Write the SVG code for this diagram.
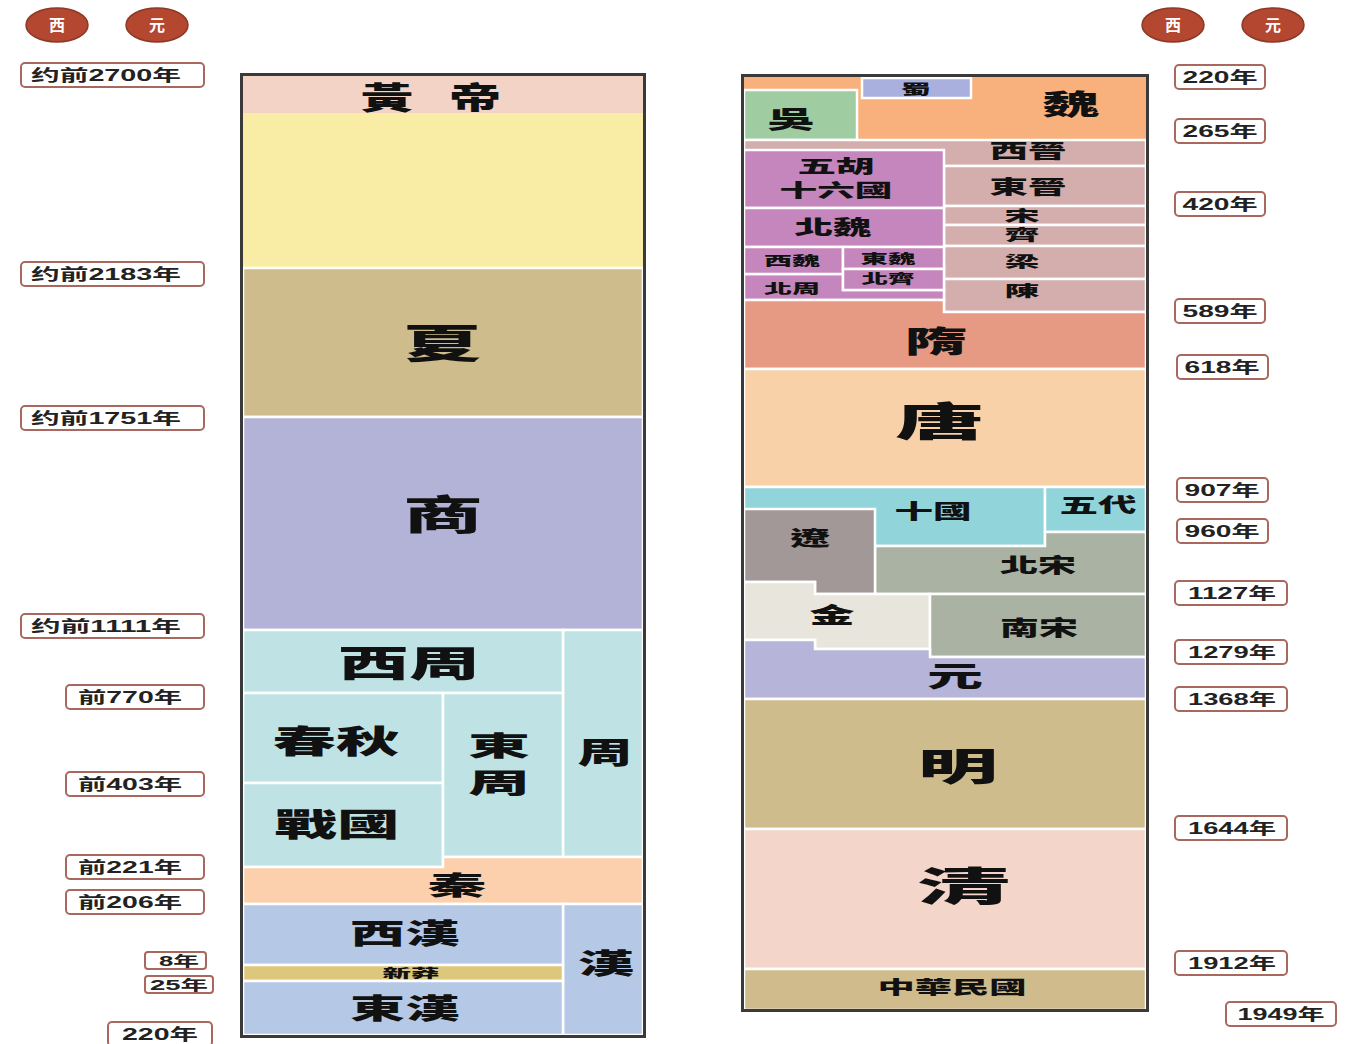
<svg xmlns="http://www.w3.org/2000/svg" width="1346" height="1044" viewBox="0 0 1346 1044">
<style>
.c{stroke:#fff;stroke-width:2.5}
.frame{fill:none;stroke:#3a3a3a;stroke-width:3}
.t{font-family:"Noto Sans CJK TC","Noto Sans CJK SC",sans-serif;font-weight:900;fill:#111;text-anchor:middle}
.lb rect{fill:#fff;stroke:#a9685e;stroke-width:2}
.lb text{font-family:"Liberation Sans","Noto Sans CJK SC",sans-serif;font-weight:bold;font-size:16px;fill:#222;text-anchor:middle}
.bd ellipse{fill:#b4472f;stroke:#8e3826;stroke-width:1.5}
.bd text{font-family:"Noto Sans CJK TC",sans-serif;font-weight:bold;font-size:16px;fill:#fff;text-anchor:middle}
</style>
<rect width="1346" height="1044" fill="#fff"/>

<g id="badges" class="bd">
<ellipse cx="57" cy="25" rx="31" ry="17"/><text x="57" y="31">西</text>
<ellipse cx="157" cy="25" rx="31" ry="17"/><text x="157" y="31">元</text>
<ellipse cx="1173" cy="25" rx="31" ry="17"/><text x="1173" y="31">西</text>
<ellipse cx="1273" cy="25" rx="31" ry="17"/><text x="1273" y="31">元</text>
</g>

<g id="left-labels" class="lb">
<rect x="21" y="63" width="183" height="24" rx="4"/><text x="106" y="81" textLength="150" lengthAdjust="spacingAndGlyphs">约前2700年</text>
<rect x="21" y="262" width="183" height="24" rx="4"/><text x="106" y="280" textLength="150" lengthAdjust="spacingAndGlyphs">约前2183年</text>
<rect x="21" y="406" width="183" height="24" rx="4"/><text x="106" y="424" textLength="150" lengthAdjust="spacingAndGlyphs">约前1751年</text>
<rect x="21" y="614" width="183" height="24" rx="4"/><text x="106" y="632" textLength="150" lengthAdjust="spacingAndGlyphs">约前1111年</text>
<rect x="66" y="685" width="138" height="24" rx="4"/><text x="130" y="703" textLength="104" lengthAdjust="spacingAndGlyphs">前770年</text>
<rect x="66" y="772" width="138" height="24" rx="4"/><text x="130" y="790" textLength="104" lengthAdjust="spacingAndGlyphs">前403年</text>
<rect x="66" y="855" width="138" height="24" rx="4"/><text x="130" y="873" textLength="104" lengthAdjust="spacingAndGlyphs">前221年</text>
<rect x="66" y="890" width="138" height="24" rx="4"/><text x="130" y="908" textLength="104" lengthAdjust="spacingAndGlyphs">前206年</text>
<rect x="145" y="952" width="61" height="17" rx="3"/><text x="179" y="966" textLength="40" lengthAdjust="spacingAndGlyphs" style="font-size:14px">8年</text>
<rect x="145" y="976" width="68" height="17" rx="3"/><text x="179" y="990" textLength="58" lengthAdjust="spacingAndGlyphs" style="font-size:14px">25年</text>
<rect x="108" y="1022" width="104" height="24" rx="4"/><text x="160" y="1040" textLength="76" lengthAdjust="spacingAndGlyphs">220年</text>
</g>

<g id="right-labels" class="lb">
<rect x="1175" y="65" width="90" height="24" rx="4"/><text x="1220" y="83" textLength="75" lengthAdjust="spacingAndGlyphs">220年</text>
<rect x="1175" y="119" width="90" height="24" rx="4"/><text x="1220" y="137" textLength="75" lengthAdjust="spacingAndGlyphs">265年</text>
<rect x="1175" y="192" width="90" height="24" rx="4"/><text x="1220" y="210" textLength="75" lengthAdjust="spacingAndGlyphs">420年</text>
<rect x="1175" y="299" width="90" height="24" rx="4"/><text x="1220" y="317" textLength="75" lengthAdjust="spacingAndGlyphs">589年</text>
<rect x="1177" y="355" width="91" height="24" rx="4"/><text x="1222" y="373" textLength="75" lengthAdjust="spacingAndGlyphs">618年</text>
<rect x="1177" y="478" width="91" height="24" rx="4"/><text x="1222" y="496" textLength="75" lengthAdjust="spacingAndGlyphs">907年</text>
<rect x="1177" y="519" width="91" height="24" rx="4"/><text x="1222" y="537" textLength="75" lengthAdjust="spacingAndGlyphs">960年</text>
<rect x="1175" y="581" width="112" height="24" rx="4"/><text x="1232" y="599" textLength="88" lengthAdjust="spacingAndGlyphs">1127年</text>
<rect x="1175" y="640" width="112" height="24" rx="4"/><text x="1232" y="658" textLength="88" lengthAdjust="spacingAndGlyphs">1279年</text>
<rect x="1175" y="687" width="112" height="24" rx="4"/><text x="1232" y="705" textLength="88" lengthAdjust="spacingAndGlyphs">1368年</text>
<rect x="1175" y="816" width="112" height="24" rx="4"/><text x="1232" y="834" textLength="88" lengthAdjust="spacingAndGlyphs">1644年</text>
<rect x="1175" y="951" width="112" height="24" rx="4"/><text x="1232" y="969" textLength="88" lengthAdjust="spacingAndGlyphs">1912年</text>
<rect x="1226" y="1002" width="110" height="24" rx="4"/><text x="1281" y="1020" textLength="87" lengthAdjust="spacingAndGlyphs">1949年</text>
</g>

<g id="left-column">
<g id="huangdi"><rect x="243" y="75" width="400" height="38" fill="#f2d3c6"/><rect x="243" y="113" width="400" height="155" fill="#f9eca5"/>
<text class="t" font-size="31" transform="translate(431 109) scale(1.7 1)" x="-26 26" y="0">黃帝</text></g>
<g id="xia"><rect class="c" x="243" y="268" width="400" height="149" fill="#cebc8d"/>
<text class="t" x="442" y="358" font-size="40" textLength="80" lengthAdjust="spacingAndGlyphs">夏</text></g>
<g id="shang"><rect class="c" x="243" y="417" width="400" height="213" fill="#b3b3d7"/>
<text class="t" x="443" y="529" font-size="40" textLength="80" lengthAdjust="spacingAndGlyphs">商</text></g>
<g id="zhou"><rect class="c" x="563" y="630" width="80" height="227" fill="#bfe3e4"/>
<text class="t" x="605" y="763" font-size="30" textLength="55" lengthAdjust="spacingAndGlyphs">周</text></g>
<g id="xizhou"><rect class="c" x="243" y="630" width="320" height="63" fill="#bfe3e4"/>
<text class="t" x="409" y="677" font-size="36" textLength="142" lengthAdjust="spacingAndGlyphs">西周</text></g>
<g id="chunqiu"><rect class="c" x="243" y="693" width="200" height="90" fill="#bfe3e4"/>
<text class="t" x="336" y="753" font-size="32" textLength="127" lengthAdjust="spacingAndGlyphs">春秋</text></g>
<g id="zhanguo"><rect class="c" x="243" y="783" width="200" height="84" fill="#bfe3e4"/>
<text class="t" x="337" y="836" font-size="32" textLength="125" lengthAdjust="spacingAndGlyphs">戰國</text></g>
<g id="dongzhou"><rect class="c" x="443" y="693" width="120" height="164" fill="#bfe3e4"/>
<text class="t" x="499" y="756" font-size="27" textLength="62" lengthAdjust="spacingAndGlyphs">東</text>
<text class="t" x="499" y="793" font-size="27" textLength="62" lengthAdjust="spacingAndGlyphs">周</text></g>
<g id="qin"><path class="c" d="M243 867H443V857H643V904H243Z" fill="#fccfad"/>
<text class="t" x="457" y="895" font-size="26" textLength="59" lengthAdjust="spacingAndGlyphs">秦</text></g>
<g id="han"><rect class="c" x="563" y="904" width="80" height="131" fill="#b5c9e6"/>
<text class="t" x="606" y="974" font-size="28" textLength="57" lengthAdjust="spacingAndGlyphs">漢</text></g>
<g id="xihan"><rect class="c" x="243" y="904" width="320" height="61" fill="#b5c9e6"/>
<text class="t" x="405" y="944" font-size="28" textLength="110" lengthAdjust="spacingAndGlyphs">西漢</text></g>
<g id="xinmang"><rect class="c" x="243" y="965" width="320" height="16" fill="#dcc77c"/>
<text class="t" x="411" y="977.5" font-size="12" textLength="57" lengthAdjust="spacingAndGlyphs">新莽</text></g>
<g id="donghan"><rect class="c" x="243" y="981" width="320" height="54" fill="#b5c9e6"/>
<text class="t" x="405" y="1019" font-size="28" textLength="110" lengthAdjust="spacingAndGlyphs">東漢</text></g>
<rect class="frame" x="241.5" y="74.5" width="403" height="962"/>
</g>

<g id="right-column">
<g id="wei"><rect x="744" y="76" width="402" height="64" fill="#f8b07d"/>
<text class="t" x="1071" y="115" font-size="28" textLength="57" lengthAdjust="spacingAndGlyphs">魏</text></g>
<g id="wu"><rect class="c" x="744" y="90" width="113" height="50" fill="#a0cca1"/>
<text class="t" x="791" y="128" font-size="24" textLength="47" lengthAdjust="spacingAndGlyphs">吳</text></g>
<g id="shu"><rect class="c" x="862" y="78" width="109" height="20" fill="#a9b0dd"/>
<text class="t" x="916" y="94" font-size="14" textLength="30" lengthAdjust="spacingAndGlyphs">蜀</text></g>
<g id="xijin"><rect class="c" x="744" y="140" width="402" height="26" fill="#d4adad"/>
<text class="t" x="1028" y="158" font-size="19" textLength="77" lengthAdjust="spacingAndGlyphs">西晉</text></g>
<g id="dongjin"><rect class="c" x="944" y="166" width="202" height="40" fill="#d4adad"/>
<text class="t" x="1028" y="194" font-size="19" textLength="77" lengthAdjust="spacingAndGlyphs">東晉</text></g>
<g id="song-s"><rect class="c" x="944" y="206" width="202" height="19" fill="#d4adad"/>
<text class="t" x="1022" y="221" font-size="15" textLength="35" lengthAdjust="spacingAndGlyphs">宋</text></g>
<g id="qi-s"><rect class="c" x="944" y="225" width="202" height="21" fill="#d4adad"/>
<text class="t" x="1022" y="240" font-size="15" textLength="35" lengthAdjust="spacingAndGlyphs">齊</text></g>
<g id="liang"><rect class="c" x="944" y="246" width="202" height="33" fill="#d4adad"/>
<text class="t" x="1022" y="267" font-size="15" textLength="35" lengthAdjust="spacingAndGlyphs">梁</text></g>
<g id="chen"><rect class="c" x="944" y="279" width="202" height="33" fill="#d4adad"/>
<text class="t" x="1022" y="296" font-size="15" textLength="35" lengthAdjust="spacingAndGlyphs">陳</text></g>
<g id="wuhu"><rect class="c" x="744" y="150" width="200" height="58" fill="#c586bd"/>
<text class="t" x="836" y="173" font-size="18" textLength="77" lengthAdjust="spacingAndGlyphs">五胡</text>
<text class="t" x="836" y="197" font-size="18" textLength="113" lengthAdjust="spacingAndGlyphs">十六國</text></g>
<g id="beiwei"><rect class="c" x="744" y="208" width="200" height="39" fill="#c586bd"/>
<text class="t" x="833" y="235" font-size="20" textLength="77" lengthAdjust="spacingAndGlyphs">北魏</text></g>
<g id="beizhou"><path class="c" d="M744 274H843V290H944V300H744Z" fill="#c586bd"/>
<text class="t" x="792" y="293" font-size="13" textLength="56" lengthAdjust="spacingAndGlyphs">北周</text></g>
<g id="xiwei"><rect class="c" x="744" y="247" width="99" height="27" fill="#c586bd"/>
<text class="t" x="792" y="265" font-size="13" textLength="56" lengthAdjust="spacingAndGlyphs">西魏</text></g>
<g id="dongwei"><rect class="c" x="843" y="247" width="101" height="22" fill="#c586bd"/>
<text class="t" x="888" y="263" font-size="13" textLength="55" lengthAdjust="spacingAndGlyphs">東魏</text></g>
<g id="beiqi"><rect class="c" x="843" y="269" width="101" height="21" fill="#c586bd"/>
<text class="t" x="888" y="283" font-size="13" textLength="53" lengthAdjust="spacingAndGlyphs">北齊</text></g>
<g id="sui"><path class="c" d="M744 300H944V312H1146V369H744Z" fill="#e69a84"/>
<text class="t" x="936" y="352" font-size="30" textLength="63" lengthAdjust="spacingAndGlyphs">隋</text></g>
<g id="tang"><rect class="c" x="744" y="369" width="402" height="118" fill="#f9d1a9"/>
<text class="t" x="940" y="436" font-size="40" textLength="90" lengthAdjust="spacingAndGlyphs">唐</text></g>
<g id="shiguo"><rect class="c" x="744" y="487" width="301" height="59" fill="#91d5db"/>
<text class="t" x="933" y="519" font-size="20" textLength="77" lengthAdjust="spacingAndGlyphs">十國</text></g>
<g id="wudai"><rect class="c" x="1045" y="487" width="101" height="45" fill="#91d5db"/>
<text class="t" x="1098" y="513" font-size="20" textLength="77" lengthAdjust="spacingAndGlyphs">五代</text></g>
<g id="beisong"><path class="c" d="M875 546H1045V532H1146V594H875Z" fill="#aab3a3"/>
<text class="t" x="1038" y="573" font-size="20" textLength="76" lengthAdjust="spacingAndGlyphs">北宋</text></g>
<g id="liao"><path class="c" d="M744 509H875V594H815V582H744Z" fill="#a39898"/>
<text class="t" x="810" y="546" font-size="20" textLength="40" lengthAdjust="spacingAndGlyphs">遼</text></g>
<g id="jin"><path class="c" d="M744 582H815V594H930V649H815V640H744Z" fill="#e8e6dc"/>
<text class="t" x="832" y="623" font-size="22" textLength="45" lengthAdjust="spacingAndGlyphs">金</text></g>
<g id="nansong"><rect class="c" x="930" y="594" width="216" height="63" fill="#aab3a3"/>
<text class="t" x="1039" y="635" font-size="21" textLength="78" lengthAdjust="spacingAndGlyphs">南宋</text></g>
<g id="yuan"><path class="c" d="M744 640H815V649H930V657H1146V699H744Z" fill="#b6b4d9"/>
<text class="t" x="955" y="687" font-size="28" textLength="56" lengthAdjust="spacingAndGlyphs">元</text></g>
<g id="ming"><rect class="c" x="744" y="699" width="402" height="130" fill="#cfbc8c"/>
<text class="t" x="958" y="780" font-size="38" textLength="80" lengthAdjust="spacingAndGlyphs">明</text></g>
<g id="qing"><rect class="c" x="744" y="829" width="402" height="140" fill="#f3d6c9"/>
<text class="t" x="964" y="901" font-size="40" textLength="92" lengthAdjust="spacingAndGlyphs">清</text></g>
<g id="minguo"><rect class="c" x="744" y="969" width="402" height="41" fill="#cfbb8b"/>
<text class="t" x="952" y="994" font-size="18" textLength="149" lengthAdjust="spacingAndGlyphs">中華民國</text></g>
<rect class="frame" x="742.5" y="75.5" width="405" height="935"/>
</g>
</svg>
